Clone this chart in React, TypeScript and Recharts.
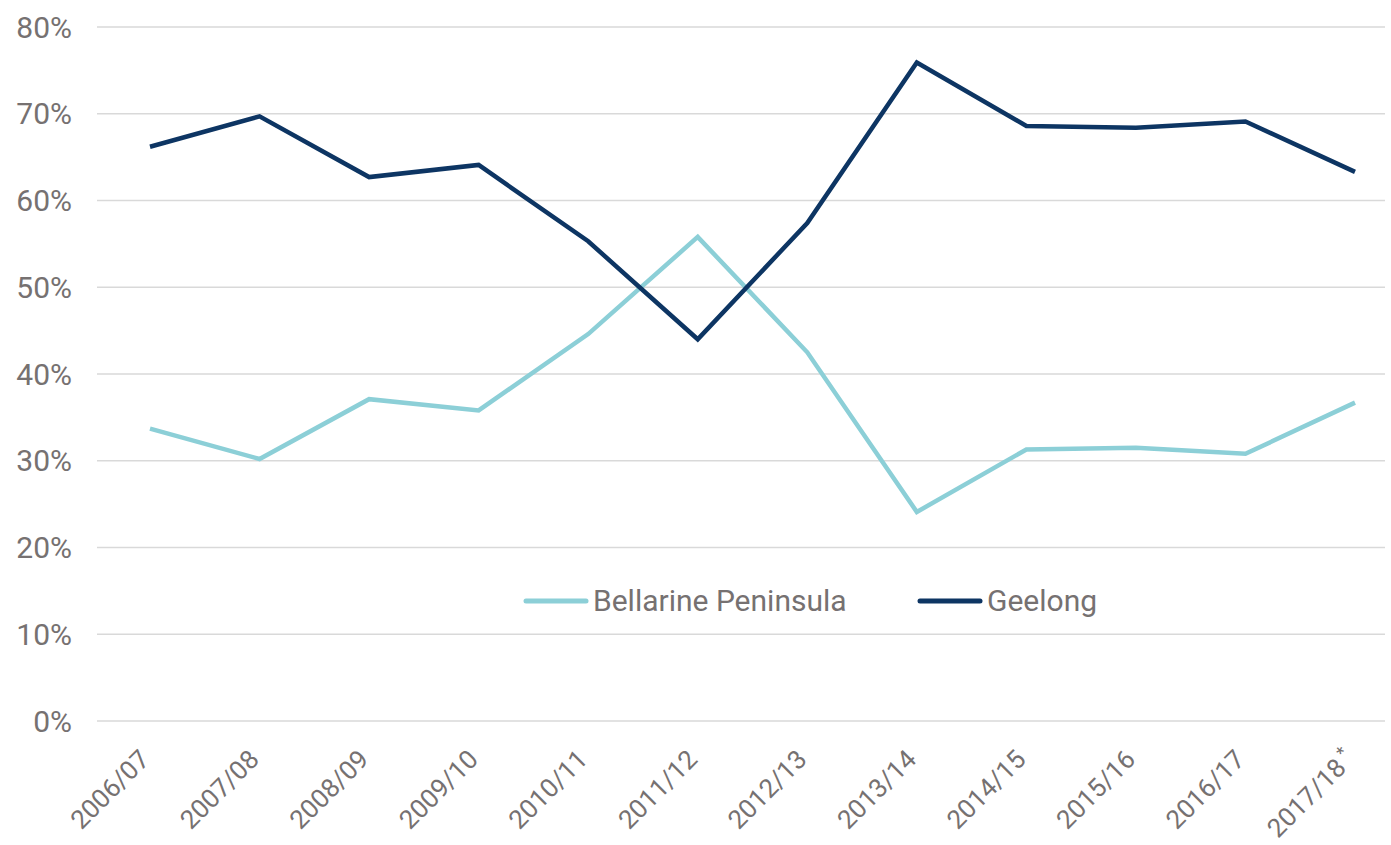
import React from "react";
import { LineChart, Line, XAxis, YAxis, CartesianGrid, Legend } from "recharts";

const years = [
  "2006/07",
  "2007/08",
  "2008/09",
  "2009/10",
  "2010/11",
  "2011/12",
  "2012/13",
  "2013/14",
  "2014/15",
  "2015/16",
  "2016/17",
  "2017/18*",
];
const bellarine = [33.7, 30.2, 37.1, 35.8, 44.6, 55.8, 42.5, 24.1, 31.3, 31.5, 30.8, 36.7];
const geelong = [66.2, 69.7, 62.7, 64.1, 55.3, 44.0, 57.4, 75.9, 68.6, 68.4, 69.1, 63.3];
const yTicks = [0, 10, 20, 30, 40, 50, 60, 70, 80];

const data = years.map((year, i) => ({
  year,
  "Bellarine Peninsula": bellarine[i],
  Geelong: geelong[i],
}));

const labelColor = "#767171";
const font = "Roboto, 'Liberation Sans', sans-serif";
const fontSize = 30;

const XTick = (props: any) => {
  const { x, y, payload } = props;
  const ax = x + 1;
  const ay = y + 32;
  const label: string = payload.value;
  const star = label.endsWith("*");
  const main = star ? label.slice(0, -1) : label;
  return (
    <text
      x={ax}
      y={ay}
      textAnchor="end"
      fill={labelColor}
      fontSize={26}
      fontFamily={font}
      transform={`rotate(-45, ${ax}, ${ay})`}
    >
      {main}
      {star && (
        <tspan fontSize={18} dx={4} dy={-10}>
          *
        </tspan>
      )}
    </text>
  );
};

// legend items are placed like the original (swatch, then text right after it)
const legendLeft = [0, 394];

const renderLegend = (props: any) => {
  const { payload } = props;
  return (
    <div style={{ position: "relative", height: 36, width: 600, fontFamily: font, fontSize, color: labelColor, lineHeight: "36px" }}>
      {payload.map((entry: any, index: number) => (
        <div
          key={`item-${index}`}
          style={{ position: "absolute", left: legendLeft[index], top: 0, display: "flex", alignItems: "center", whiteSpace: "nowrap" }}
        >
          <svg width="66" height="10" style={{ marginRight: 4 }}>
            <line x1="3" y1="5" x2="63" y2="5" stroke={entry.color} strokeWidth={5} strokeLinecap="round" />
          </svg>
          <span>{entry.value}</span>
        </div>
      ))}
    </div>
  );
};

export default function App() {
  return (
    <div style={{ position: "absolute", left: 0, top: 0, background: "#fff" }}>
      <LineChart width={1391} height={845} data={data} margin={{ top: 27, right: 6, left: 0, bottom: 0 }}>
        <CartesianGrid vertical={false} stroke="#d9d9d9" strokeWidth={1.5} />
        <XAxis
          dataKey="year"
          axisLine={false}
          tickLine={false}
          interval={0}
          height={88}
          padding={{ left: 53, right: 30 }}
          tick={<XTick />}
        />
        <YAxis
          domain={[0, 80]}
          ticks={yTicks}
          width={97}
          axisLine={false}
          tickLine={false}
          tickMargin={19}
          tickFormatter={(v: number) => `${v}%`}
          tick={{ fill: labelColor, fontSize, fontFamily: font }}
        />
        <Legend
          content={renderLegend}
          wrapperStyle={{ position: "absolute", top: 583, left: 523, width: 600 }}
        />
        <Line
          type="linear"
          dataKey="Bellarine Peninsula"
          stroke="#8ccfd7"
          strokeWidth={4.5}
          dot={false}
          isAnimationActive={false}
        />
        <Line
          type="linear"
          dataKey="Geelong"
          stroke="#0d3563"
          strokeWidth={4.5}
          dot={false}
          isAnimationActive={false}
        />
      </LineChart>
    </div>
  );
}
